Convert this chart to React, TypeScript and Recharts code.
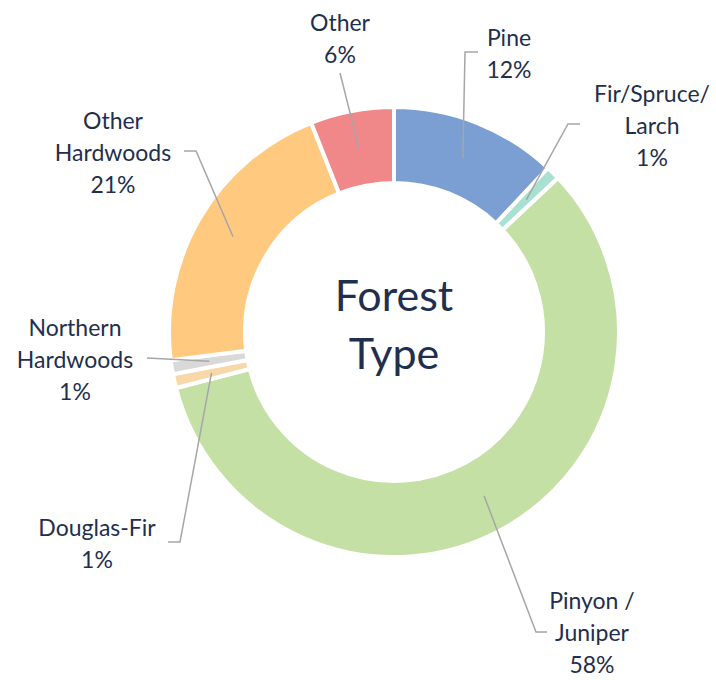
import { Cell, Pie, PieChart } from "recharts";

// forest type shares, clockwise from 12 o'clock
const categories = [
  ["Pine"],
  ["Fir/Spruce/", "Larch"],
  ["Pinyon /", "Juniper"],
  ["Douglas-Fir"],
  ["Northern", "Hardwoods"],
  ["Other", "Hardwoods"],
  ["Other"],
];
const shares = [12, 1, 58, 1, 1, 21, 6];
const centerTitle = ["Forest", "Type"];

const COLORS = ["#7b9fd3", "#a8e0d2", "#c5e0a5", "#f8d8a8", "#d9d9d9", "#ffc980", "#f08788"];

// manual label placement, offsets from the donut centre (like Excel's dragged labels)
const LABEL_LAYOUT = [
  { elbow: [71, -280], end: [84, -280], tx: 115, ty: -295 },
  { elbow: [174, -208], end: [186, -208], tx: 258, ty: -239 },
  { elbow: [142, 300], end: [153, 300], tx: 198, ty: 268 },
  { elbow: [-214, 210], end: [-226, 210], tx: -297, ty: 195 },
  { elbow: [-247, 26], end: [-247, 26], tx: -319, ty: -5 },
  { elbow: [-198, -181], end: [-210, -181], tx: -281, ty: -212 },
  { elbow: [-54, -259], end: [-54, -259], tx: -54, ty: -310 },
];

const TEXT = "#1f2f4d";
const FONT = "Lato, 'Open Sans', sans-serif";
const RAD = Math.PI / 180;

const data = categories.map((lines, i) => ({ name: lines.join(" "), value: shares[i] }));

function renderLabel(props: any) {
  const { cx, cy, midAngle, innerRadius, outerRadius, percent, index } = props;
  const lay = LABEL_LAYOUT[index];
  const r = (innerRadius + outerRadius) / 2;
  const sx = cx + r * Math.cos(-midAngle * RAD);
  const sy = cy + r * Math.sin(-midAngle * RAD);
  const pts = [
    [sx, sy],
    [cx + lay.elbow[0], cy + lay.elbow[1]],
    [cx + lay.end[0], cy + lay.end[1]],
  ];
  const lines = [...categories[index], `${Math.round(percent * 100)}%`];
  return (
    <g key={`lbl-${index}`}>
      <polyline
        points={pts.map((p) => p.join(",")).join(" ")}
        fill="none"
        stroke="#a6a6a6"
        strokeWidth={1.5}
      />
      <text
        x={cx + lay.tx}
        textAnchor="middle"
        fill={TEXT}
        fontFamily={FONT}
        fontSize={23}
      >
        {lines.map((t, j) => (
          <tspan key={j} x={cx + lay.tx} y={cy + lay.ty + j * 32} dominantBaseline="central">
            {t}
          </tspan>
        ))}
      </text>
    </g>
  );
}

export default function App() {
  const cx = 394;
  const cy = 332;
  return (
    <div style={{ position: "absolute", left: 0, top: 0, width: 716, height: 680, background: "#fff" }}>
      <PieChart width={716} height={680} margin={{ top: 0, right: 0, bottom: 0, left: 0 }}>
        <Pie
          data={data}
          dataKey="value"
          nameKey="name"
          cx={cx}
          cy={cy}
          innerRadius={149}
          outerRadius={225}
          startAngle={90}
          endAngle={-270}
          stroke="#ffffff"
          strokeWidth={4}
          label={renderLabel}
          labelLine={false}
          isAnimationActive={false}
        >
          {data.map((d, i) => (
            <Cell key={d.name + i} fill={COLORS[i]} />
          ))}
        </Pie>
        <text x={cx} y={cy - 38} textAnchor="middle" dominantBaseline="central" fill={TEXT} fontFamily={FONT} fontSize={43}>
          {centerTitle[0]}
        </text>
        <text x={cx} y={cy + 20} textAnchor="middle" dominantBaseline="central" fill={TEXT} fontFamily={FONT} fontSize={43}>
          {centerTitle[1]}
        </text>
      </PieChart>
    </div>
  );
}
